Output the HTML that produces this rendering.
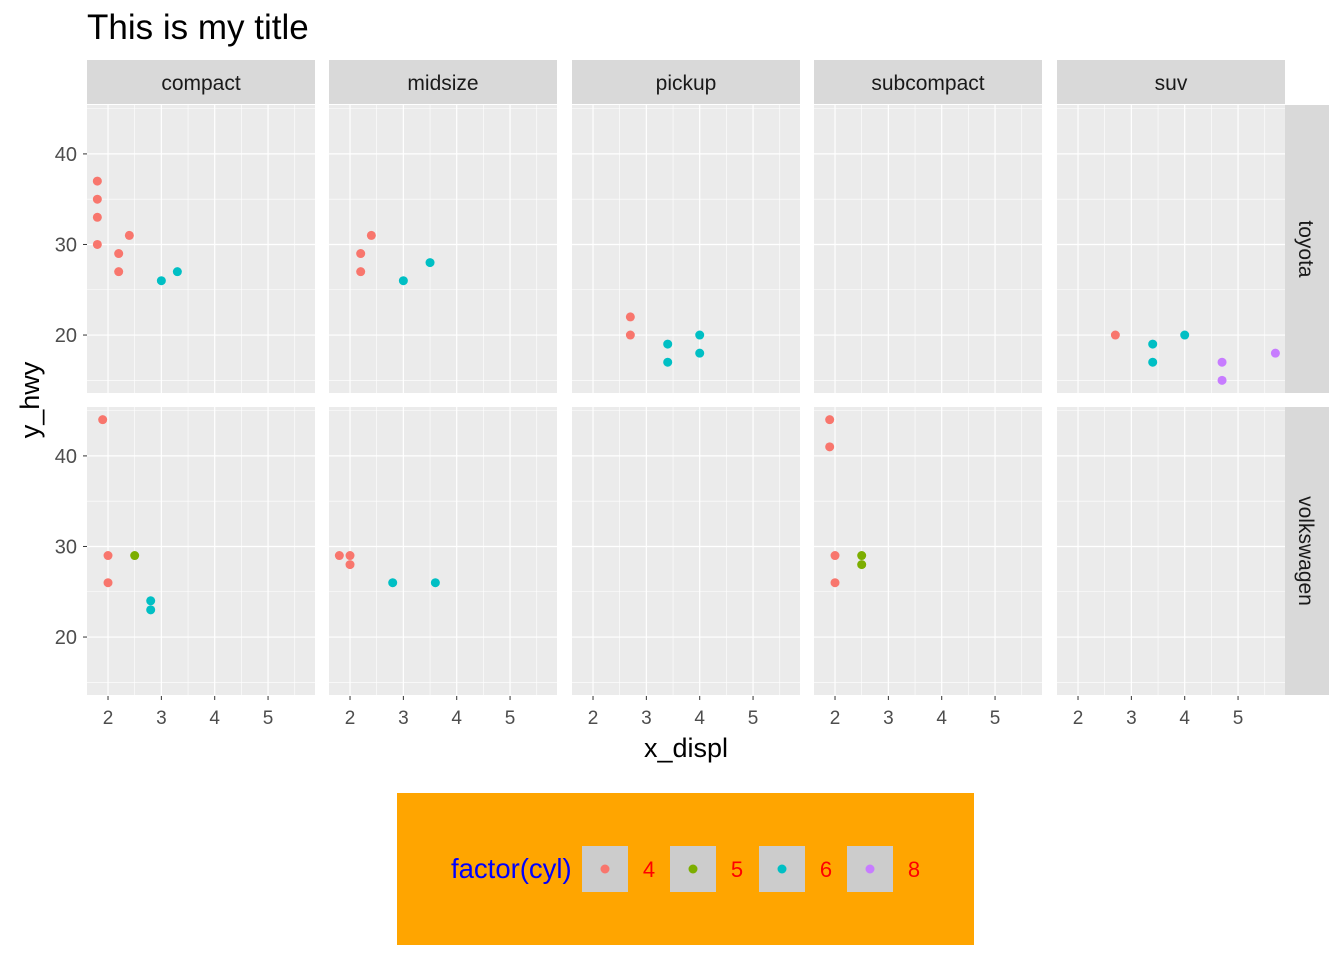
<!DOCTYPE html>
<html><head><meta charset="utf-8"><style>
body{margin:0;background:#fff;}
svg text{font-family:"Liberation Sans",sans-serif;}
</style></head><body>
<svg id="c" width="1344" height="960" xmlns="http://www.w3.org/2000/svg"></svg>
<script>
const classes=["compact","midsize","pickup","subcompact","suv"];
const makers=["toyota","volkswagen"];
const xTicks=[2,3,4,5];
const yTicks=[20,30,40];
const cylLevels=[4,5,6,8];
const cylColors=["#F8766D","#7CAE00","#00BFC4","#C77CFF"];
const ptMaker=[0,0,0,0,0,0,0,0,0, 0,0,0,0,0, 0,0,0,0,0,0, 0,0,0,0,0,0,0, 1,1,1,1,1,1, 1,1,1,1,1, 1,1,1,1,1,1];
const ptClass=[0,0,0,0,0,0,0,0,0, 1,1,1,1,1, 2,2,2,2,2,2, 4,4,4,4,4,4,4, 0,0,0,0,0,0, 1,1,1,1,1, 3,3,3,3,3,3];
const ptDispl=[1.8,1.8,1.8,1.8,2.2,2.2,2.4,3.0,3.3, 2.2,2.2,2.4,3.0,3.5, 2.7,2.7,3.4,3.4,4.0,4.0, 2.7,3.4,3.4,4.0,4.7,4.7,5.7, 1.9,2.0,2.0,2.5,2.8,2.8, 1.8,2.0,2.0,2.8,3.6, 1.9,1.9,2.0,2.0,2.5,2.5];
const ptHwy=[37,35,33,30,29,27,31,26,27, 29,27,31,26,28, 22,20,19,17,20,18, 20,19,17,20,17,15,18, 44,29,26,29,24,23, 29,29,28,26,26, 44,41,29,26,29,28];
const ptCyl=[4,4,4,4,4,4,4,6,6, 4,4,4,6,6, 4,4,6,6,6,6, 4,6,6,6,8,8,8, 4,4,4,5,6,6, 4,4,4,6,6, 4,4,4,4,5,5];

const svg=document.getElementById('c');
const NS="http://www.w3.org/2000/svg";
function mk(tag,attrs,parent){const e=document.createElementNS(NS,tag);for(const k in attrs)e.setAttribute(k,attrs[k]);(parent||svg).appendChild(e);return e;}
const colX=[87,329,572,814,1057], pw=228;
const rowY=[105,407], ph=288;
const xmin=1.606,xmax=5.88,ymin=13.6,ymax=45.4;
function sx(c,v){return colX[c]+(v-xmin)/(xmax-xmin)*pw;}
function sy(r,v){return rowY[r]+ph-(v-ymin)/(ymax-ymin)*ph;}

let t=mk('text',{x:87,y:39,'font-size':35,fill:'#000'});t.textContent="This is my title";


for(let c=0;c<5;c++){
  let s=mk('rect',{x:colX[c],y:60,width:pw,height:44,fill:'#d9d9d9'});
  
  let st=mk('text',{x:colX[c]+pw/2,y:90,'font-size':21,'text-anchor':'middle',fill:'#1a1a1a'});st.textContent=classes[c];
  
  for(let r=0;r<2;r++){
    let p=mk('rect',{x:colX[c],y:rowY[r],width:pw,height:ph,fill:'#ebebeb'});
    
    for(const v of [1.5,2.5,3.5,4.5,5.5]) mk('line',{x1:sx(c,v),x2:sx(c,v),y1:rowY[r],y2:rowY[r]+ph,stroke:'#fff','stroke-width':0.6});
    for(const v of [15,25,35,45]) mk('line',{x1:colX[c],x2:colX[c]+pw,y1:sy(r,v),y2:sy(r,v),stroke:'#fff','stroke-width':0.6});
    for(const v of xTicks) mk('line',{x1:sx(c,v),x2:sx(c,v),y1:rowY[r],y2:rowY[r]+ph,stroke:'#fff','stroke-width':1.2});
    for(const v of yTicks) mk('line',{x1:colX[c],x2:colX[c]+pw,y1:sy(r,v),y2:sy(r,v),stroke:'#fff','stroke-width':1.2});
  }
  for(const v of xTicks){
    mk('line',{x1:sx(c,v),x2:sx(c,v),y1:696,y2:700,stroke:'#333','stroke-width':1});
    let tx=mk('text',{x:sx(c,v),y:724,'font-size':19,'text-anchor':'middle',fill:'#4d4d4d'});tx.textContent=v;
    
  }
}
for(let r=0;r<2;r++){
  let s=mk('rect',{x:1285,y:rowY[r],width:44,height:ph,fill:'#d9d9d9'});
  
  const cy=rowY[r]+ph/2;
  let st=mk('text',{x:1299,y:cy,'font-size':21,'text-anchor':'middle',fill:'#1a1a1a',transform:`rotate(90 1299 ${cy})`});st.textContent=makers[r];
  
  for(const v of yTicks){
    mk('line',{x1:83,x2:87,y1:sy(r,v),y2:sy(r,v),stroke:'#333','stroke-width':1});
    let ty=mk('text',{x:77,y:sy(r,v)+7,'font-size':20,'text-anchor':'end',fill:'#4d4d4d'});ty.textContent=v;
    
  }
}
for(let i=0;i<ptHwy.length;i++){
  const ci=cylLevels.indexOf(ptCyl[i]);
  let d=mk('circle',{cx:sx(ptClass[i],ptDispl[i]),cy:sy(ptMaker[i],ptHwy[i]),r:4.5,fill:cylColors[ci]});
  
}
let xt=mk('text',{x:686,y:757,'font-size':27,'text-anchor':'middle',fill:'#000'});xt.textContent="x_displ";

let yt=mk('text',{x:39,y:400,'font-size':27,'text-anchor':'middle',fill:'#000',transform:'rotate(-90 39 400)'});yt.textContent="y_hwy";


let lg=mk('rect',{x:397,y:793,width:577,height:152,fill:'#FFA500'});

let lt=mk('text',{x:451,y:878,'font-size':27.5,fill:'#0000ff'});lt.textContent="factor(cyl)";

const keyX=[582,670,759,847];
for(let i=0;i<4;i++){
  let k=mk('rect',{x:keyX[i],y:846,width:46,height:46,fill:'#cccccc'});
  
  mk('circle',{cx:keyX[i]+23,cy:869,r:4.5,fill:cylColors[i]});
  let l=mk('text',{x:keyX[i]+67,y:877,'font-size':22,'text-anchor':'middle',fill:'#ff0000'});l.textContent=cylLevels[i];
  
}
</script>
</body></html>
